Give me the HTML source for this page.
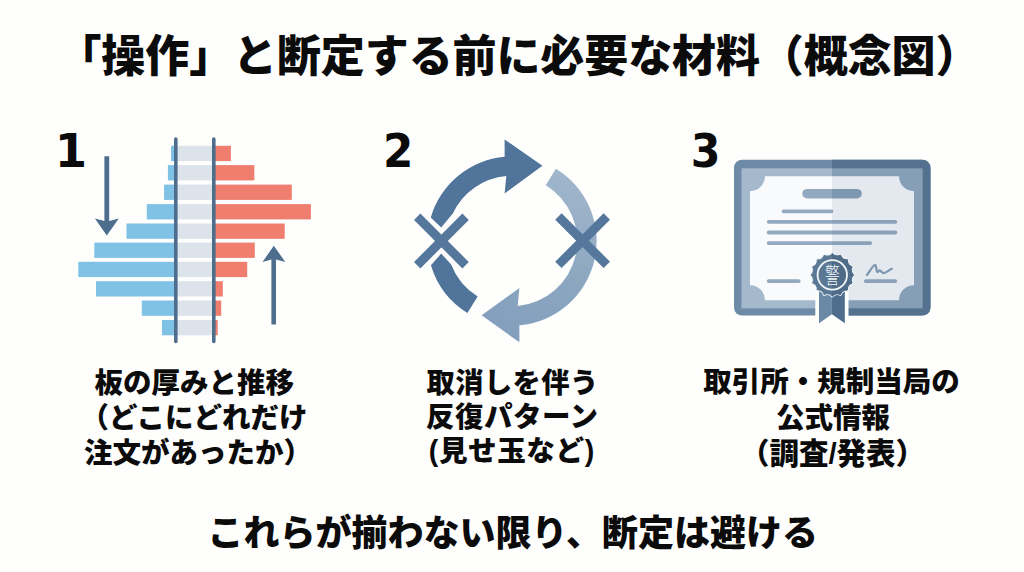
<!DOCTYPE html>
<html lang="ja"><head><meta charset="utf-8"><title>「操作」と断定する前に必要な材料（概念図）</title>
<style>
html,body{margin:0;padding:0;background:#FEFEFD;}
body{width:1024px;height:572px;overflow:hidden;}
svg{display:block;}
text{font-family:"Liberation Sans","Noto Sans CJK JP",sans-serif;fill:#0b0b0b;}
text.seal{fill:#F3F6F9;}
text.num{font-family:"DejaVu Sans","Liberation Sans",sans-serif;}
</style></head><body>
<svg width="1024" height="572" viewBox="0 0 1024 572">
<rect width="1024" height="572" fill="#FEFEFD"/>
<g id="icon1">
<rect x="171" y="145.8" width="4.8" height="15.3" fill="#7FC2E6"/>
<rect x="175.8" y="145.8" width="38.0" height="15.3" fill="#DCE3EB"/>
<rect x="213.8" y="145.8" width="17.1" height="15.3" fill="#EF7E6E"/>
<rect x="167.9" y="165.1" width="7.9" height="15.3" fill="#7FC2E6"/>
<rect x="175.8" y="165.1" width="38.0" height="15.3" fill="#DCE3EB"/>
<rect x="213.8" y="165.1" width="40.5" height="15.3" fill="#EF7E6E"/>
<rect x="164.1" y="184.6" width="11.7" height="15.3" fill="#7FC2E6"/>
<rect x="175.8" y="184.6" width="38.0" height="15.3" fill="#DCE3EB"/>
<rect x="213.8" y="184.6" width="78.0" height="15.3" fill="#EF7E6E"/>
<rect x="146.8" y="204.1" width="29.0" height="15.3" fill="#7FC2E6"/>
<rect x="175.8" y="204.1" width="38.0" height="15.3" fill="#DCE3EB"/>
<rect x="213.8" y="204.1" width="97.1" height="15.3" fill="#EF7E6E"/>
<rect x="126.5" y="223.5" width="49.3" height="15.3" fill="#7FC2E6"/>
<rect x="175.8" y="223.5" width="38.0" height="15.3" fill="#DCE3EB"/>
<rect x="213.8" y="223.5" width="70.9" height="15.3" fill="#EF7E6E"/>
<rect x="94.3" y="242.6" width="81.5" height="15.3" fill="#7FC2E6"/>
<rect x="175.8" y="242.6" width="38.0" height="15.3" fill="#DCE3EB"/>
<rect x="213.8" y="242.6" width="41.0" height="15.3" fill="#EF7E6E"/>
<rect x="78.3" y="261.8" width="97.5" height="15.3" fill="#7FC2E6"/>
<rect x="175.8" y="261.8" width="38.0" height="15.3" fill="#DCE3EB"/>
<rect x="213.8" y="261.8" width="33.4" height="15.3" fill="#EF7E6E"/>
<rect x="96" y="281.2" width="79.8" height="15.3" fill="#7FC2E6"/>
<rect x="175.8" y="281.2" width="38.0" height="15.3" fill="#DCE3EB"/>
<rect x="213.8" y="281.2" width="9.0" height="15.3" fill="#EF7E6E"/>
<rect x="141.8" y="300.5" width="34.0" height="15.3" fill="#7FC2E6"/>
<rect x="175.8" y="300.5" width="38.0" height="15.3" fill="#DCE3EB"/>
<rect x="213.8" y="300.5" width="7.4" height="15.3" fill="#EF7E6E"/>
<rect x="162" y="320.0" width="13.8" height="15.3" fill="#7FC2E6"/>
<rect x="175.8" y="320.0" width="38.0" height="15.3" fill="#DCE3EB"/>
<rect x="213.8" y="320.0" width="3.9" height="15.3" fill="#EF7E6E"/>
<line x1="175.8" y1="139" x2="175.8" y2="341.5" stroke="#4E6E8D" stroke-width="3.6" stroke-linecap="round"/>
<line x1="213.8" y1="139" x2="213.8" y2="341.5" stroke="#4E6E8D" stroke-width="3.6" stroke-linecap="round"/>
<path d="M104.4 156.2H109.2V221 L118.8 218.5 L106.8 235.4 L94.9 218.5 L104.4 221Z" fill="#4E6E8D"/>
<path d="M271.4 324.5H276V259.5 L285.3 261.9 L273.8 245.8 L262.5 261.9 L271.4 259.5Z" fill="#4E6E8D"/>
</g>
<g id="icon2">
<path d="M430.76 217.40 A84.6 84.6 0 0 1 504.63 156.72 L504.6 139.4 L542.4 165.7 L504.6 193.6 L506.32 176.05 A65.2 65.2 0 0 0 453.01 213.24 L441.20 227.60Z" fill="#51749A"/>
<path d="M430.93 265.17 A84.6 84.6 0 0 0 467.42 312.90 L477.64 296.41 A65.2 65.2 0 0 1 451.17 264.47 L441.20 253.60Z" fill="#51749A"/>
<linearGradient id="lg" gradientUnits="userSpaceOnUse" x1="560" y1="165" x2="500" y2="340"><stop offset="0" stop-color="#A2B7CC"/><stop offset="0.55" stop-color="#8DA7C1"/><stop offset="1" stop-color="#819EBB"/></linearGradient>
<path d="M555.83 168.64 A84.6 84.6 0 0 1 519.37 325.28 L519.4 342.3 L481.6 315.2 L519.4 287.9 L517.68 305.95 A65.2 65.2 0 0 0 545.78 185.23Z" fill="url(#lg)"/>
<path d="M417.2 216.8L465.59999999999997 265.2M465.59999999999997 216.8L417.2 265.2" stroke="#55779B" stroke-width="9" fill="none"/>
<path d="M558.4 216.5L606.8000000000001 264.9M606.8000000000001 216.5L558.4 264.9" stroke="#55779B" stroke-width="9" fill="none"/>
</g>
<g id="icon3">
<clipPath id="cL"><rect x="700" y="140" width="132" height="200"/></clipPath>
<clipPath id="cR"><rect x="832" y="140" width="120" height="200"/></clipPath>
<g>
<rect x="734.0" y="159.7" width="196.5" height="155.9" rx="8.2" fill="#6D8BA7"/>
<rect x="741.5" y="168.3" width="181.1" height="140.0" fill="#A5B9CC"/>
<path d="M765.0 176.2 H899.0 A15.0 15.0 0 0 0 914.0 191.2 V285.2 A15.0 15.0 0 0 0 899.0 300.2 H765.0 A15.0 15.0 0 0 0 750.0 285.2 V191.2 A15.0 15.0 0 0 0 765.0 176.2Z" fill="#F8FAFB"/>
<rect x="802.3" y="188.9" width="59.5" height="9.6" rx="4.8" fill="#93A9BF"/>
<line x1="783.6" y1="211.3" x2="831.3000000000001" y2="211.3" stroke="#93A9BF" stroke-width="3.8" stroke-linecap="round"/>
<line x1="768.6999999999999" y1="221.8" x2="895.3000000000001" y2="221.8" stroke="#93A9BF" stroke-width="3.8" stroke-linecap="round"/>
<line x1="768.6999999999999" y1="232.5" x2="895.3000000000001" y2="232.5" stroke="#93A9BF" stroke-width="3.8" stroke-linecap="round"/>
<line x1="768.6999999999999" y1="243.1" x2="870.2" y2="243.1" stroke="#93A9BF" stroke-width="3.8" stroke-linecap="round"/>
<line x1="768.6999999999999" y1="281.1" x2="798.7" y2="281.1" stroke="#93A9BF" stroke-width="3.8" stroke-linecap="round"/>
<line x1="865.8" y1="281.1" x2="895.3000000000001" y2="281.1" stroke="#93A9BF" stroke-width="3.8" stroke-linecap="round"/>
</g>
<g clip-path="url(#cR)">
<rect x="734.0" y="159.7" width="196.5" height="155.9" rx="8.2" fill="#54728F"/>
<rect x="741.5" y="168.3" width="181.1" height="140.0" fill="#869FB7"/>
<path d="M765.0 176.2 H899.0 A15.0 15.0 0 0 0 914.0 191.2 V285.2 A15.0 15.0 0 0 0 899.0 300.2 H765.0 A15.0 15.0 0 0 0 750.0 285.2 V191.2 A15.0 15.0 0 0 0 765.0 176.2Z" fill="#E4E9EF"/>
<rect x="802.3" y="188.9" width="59.5" height="9.6" rx="4.8" fill="#7F98B1"/>
<line x1="783.6" y1="211.3" x2="831.3000000000001" y2="211.3" stroke="#8AA1B8" stroke-width="3.8" stroke-linecap="round"/>
<line x1="768.6999999999999" y1="221.8" x2="895.3000000000001" y2="221.8" stroke="#8AA1B8" stroke-width="3.8" stroke-linecap="round"/>
<line x1="768.6999999999999" y1="232.5" x2="895.3000000000001" y2="232.5" stroke="#8AA1B8" stroke-width="3.8" stroke-linecap="round"/>
<line x1="768.6999999999999" y1="243.1" x2="870.2" y2="243.1" stroke="#8AA1B8" stroke-width="3.8" stroke-linecap="round"/>
<line x1="768.6999999999999" y1="281.1" x2="798.7" y2="281.1" stroke="#8AA1B8" stroke-width="3.8" stroke-linecap="round"/>
<line x1="865.8" y1="281.1" x2="895.3000000000001" y2="281.1" stroke="#8AA1B8" stroke-width="3.8" stroke-linecap="round"/>
</g>
<path d="M867 275 C870 271 873.2 265 875 264.9 C876.7 264.9 876 272 877.4 272.1 C878.4 272.1 878.7 270.2 879.7 270.3 C880.9 270.4 882 273.3 883.9 273.2 C886 273.1 889 270 891.7 268.8" fill="none" stroke="#7E97B0" stroke-width="2.3" stroke-linecap="round" stroke-linejoin="round"/>
<path d="M819.0 290.0H844.8V323.2L831.9 314.3L819.0 323.2Z" fill="#FEFEFD" stroke="#FEFEFD" stroke-width="7.4" stroke-linejoin="miter"/>
<path d="M819.0 290.0H831.9V314.3L819.0 323.2Z" fill="#6A89A6"/>
<path d="M831.9 290.0H844.8V323.2L831.9 314.3Z" fill="#4F6E8D"/>
<path d="M832.30 253.60Q835.77 257.44 840.45 255.22Q842.19 260.10 847.36 259.84Q847.10 265.01 851.98 266.75Q849.76 271.43 853.60 274.90Q849.76 278.37 851.98 283.05Q847.10 284.79 847.36 289.96Q842.19 289.70 840.45 294.58Q835.77 292.36 832.30 296.20Q828.83 292.36 824.15 294.58Q822.41 289.70 817.24 289.96Q817.50 284.79 812.62 283.05Q814.84 278.37 811.00 274.90Q814.84 271.43 812.62 266.75Q817.50 265.01 817.24 259.84Q822.41 260.10 824.15 255.22Q828.83 257.44 832.30 253.60Z" fill="#F1F4F8" stroke="#F1F4F8" stroke-width="2.6" stroke-linejoin="round"/>
<path d="M832.30 253.60Q835.77 257.44 840.45 255.22Q842.19 260.10 847.36 259.84Q847.10 265.01 851.98 266.75Q849.76 271.43 853.60 274.90Q849.76 278.37 851.98 283.05Q847.10 284.79 847.36 289.96Q842.19 289.70 840.45 294.58Q835.77 292.36 832.30 296.20Q828.83 292.36 824.15 294.58Q822.41 289.70 817.24 289.96Q817.50 284.79 812.62 283.05Q814.84 278.37 811.00 274.90Q814.84 271.43 812.62 266.75Q817.50 265.01 817.24 259.84Q822.41 260.10 824.15 255.22Q828.83 257.44 832.30 253.60Z" fill="#5A7894" stroke="#5A7894" stroke-width="0.8" stroke-linejoin="round"/>
<path d="M832.30 253.60Q835.77 257.44 840.45 255.22Q842.19 260.10 847.36 259.84Q847.10 265.01 851.98 266.75Q849.76 271.43 853.60 274.90Q849.76 278.37 851.98 283.05Q847.10 284.79 847.36 289.96Q842.19 289.70 840.45 294.58Q835.77 292.36 832.30 296.20Q828.83 292.36 824.15 294.58Q822.41 289.70 817.24 289.96Q817.50 284.79 812.62 283.05Q814.84 278.37 811.00 274.90Q814.84 271.43 812.62 266.75Q817.50 265.01 817.24 259.84Q822.41 260.10 824.15 255.22Q828.83 257.44 832.30 253.60Z" fill="#4E6B88" stroke="#4E6B88" stroke-width="0.8" stroke-linejoin="round" clip-path="url(#cR)"/>
<circle cx="832.3" cy="274.9" r="14.7" fill="none" stroke="#F3F6F9" stroke-width="1.8"/>
<text x="0" y="5.3" text-anchor="middle" font-size="15" font-weight="300" class="seal" transform="translate(832.3 275.4) scale(0.98 1.42)">警</text>
</g>
<g id="labels">
<text x="518.4" y="72.1" font-size="44" text-anchor="middle" font-weight="900" letter-spacing="-0.1" >「操作」と断定する前に必要な材料（概念図）</text>
<text x="70.9" y="167" font-size="46.5" text-anchor="middle" font-weight="700" letter-spacing="0" class="num">1</text>
<text x="0" y="0" font-size="46.5" text-anchor="middle" font-weight="700" letter-spacing="0" class="num" transform="translate(398.1 167.2) scale(0.94 1.005)">2</text>
<text x="0" y="0" font-size="46.5" text-anchor="middle" font-weight="700" letter-spacing="0" class="num" transform="translate(705.7 167.2) scale(0.92 1.0)">3</text>
<text x="194.3" y="393.3" font-size="28.5" text-anchor="middle" font-weight="900" letter-spacing="0" >板の厚みと推移</text>
<text x="194.0" y="427.8" font-size="28.5" text-anchor="middle" font-weight="900" letter-spacing="0" >（どこにどれだけ</text>
<text x="198" y="463" font-size="28.5" text-anchor="middle" font-weight="900" letter-spacing="0" >注文があったか）</text>
<text x="512.6" y="392.7" font-size="28.3" text-anchor="middle" font-weight="900" letter-spacing="0.4" >取消しを伴う</text>
<text x="512.2" y="427" font-size="28.5" text-anchor="middle" font-weight="900" letter-spacing="0.5" >反復パターン</text>
<text x="511.8" y="460.8" font-size="28.6" text-anchor="middle" font-weight="900" letter-spacing="0.55" >(見せ玉など)</text>
<text x="831.5" y="392.4" font-size="28.5" text-anchor="middle" font-weight="900" letter-spacing="0" >取引所・規制当局の</text>
<text x="833" y="427.8" font-size="28.5" text-anchor="middle" font-weight="900" letter-spacing="0" >公式情報</text>
<text x="832.5" y="464" font-size="29.5" text-anchor="middle" font-weight="900" letter-spacing="0" >（調査/発表）</text>
<text x="512.8" y="546.2" font-size="36" text-anchor="middle" font-weight="900" letter-spacing="0" >これらが揃わない限り、断定は避ける</text>
</g>
</svg>
</body></html>
